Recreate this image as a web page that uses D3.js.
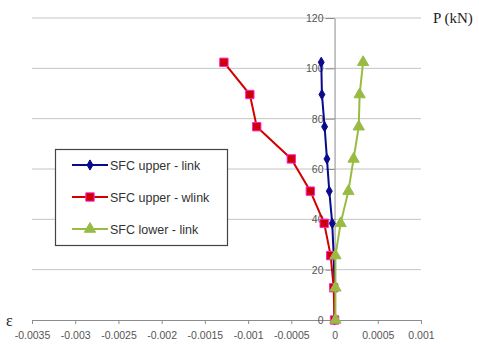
<!DOCTYPE html>
<html>
<head>
<meta charset="utf-8">
<script src="https://cdn.jsdelivr.net/npm/d3@7"></script>
<style>
  body { margin: 0; background: #fff; }
  svg { display: block; }
</style>
</head>
<body>
<div id="chart"></div>
<script>
const loads = [0, 12.8, 25.6, 38.4, 51.2, 64, 76.8, 89.6, 102.4];
const upperLink = [0, 0, -0.00001, -0.000027, -0.000061, -0.000088, -0.000115, -0.000146, -0.000154];
const upperWlink = [0, -0.00001, -0.000045, -0.00012, -0.00028, -0.0005, -0.0009, -0.00098, -0.00128];
const lowerLink = [0.00001, 0.00001, 0.00001, 0.00007, 0.00016, 0.00022, 0.00028, 0.00029, 0.00033];
const xTicks = [-0.0035, -0.003, -0.0025, -0.002, -0.0015, -0.001, -0.0005, 0, 0.0005, 0.001];
const yTicks = [0, 20, 40, 60, 80, 100, 120];
const seriesNames = ["SFC upper - link", "SFC upper - wlink", "SFC lower - link"];

const W = 479, H = 345;
const svg = d3.select("#chart").append("svg").attr("width", W).attr("height", H);

const x = d3.scaleLinear().domain([-0.0035, 0.001]).range([32, 421]);
const y = d3.scaleLinear().domain([0, 120]).range([320, 18]);

// Gridlines
yTicks.filter(v => v > 0).forEach(v => {
  svg.append("line")
    .attr("x1", x(-0.0035)).attr("x2", x(0.001))
    .attr("y1", y(v)).attr("y2", y(v))
    .attr("stroke", "#c4c4c4").attr("stroke-width", 1);
});

// X axis
const xAxis = svg.append("g")
  .attr("transform", `translate(0,${y(0)})`)
  .call(d3.axisBottom(x).tickValues(xTicks).tickSize(4).tickPadding(8)
    .tickFormat(d => d === 0 ? "0" : String(+d.toFixed(4))));
xAxis.select(".domain").attr("stroke", "#8c8c8c");
xAxis.selectAll(".tick line").attr("stroke", "#8c8c8c");
xAxis.selectAll("text").attr("fill", "#555").attr("font-family", "Arial, 'Liberation Sans', sans-serif").attr("font-size", 10.5);

// Y axis at x=0
const yAxis = svg.append("g")
  .attr("transform", `translate(${x(0)},0)`)
  .call(d3.axisLeft(y).tickValues(yTicks).tickSize(9).tickSizeOuter(0).tickPadding(2));
yAxis.select(".domain").attr("stroke", "#8c8c8c");
yAxis.selectAll(".tick line").attr("stroke", "#8c8c8c");
yAxis.selectAll("text").attr("fill", "#555").attr("font-family", "Arial, 'Liberation Sans', sans-serif").attr("font-size", 10.5);

// Axis titles
svg.append("text").attr("x", 433).attr("y", 23)
  .attr("font-family", "'Liberation Serif', 'Times New Roman', serif").attr("font-size", 15)
  .attr("fill", "#222").text("P (kN)");
svg.append("text").attr("x", 6).attr("y", 326)
  .attr("font-family", "'Liberation Serif', 'Times New Roman', serif").attr("font-size", 16)
  .attr("fill", "#222").text("ε");

// Series
const series = [
  { name: seriesNames[0], vals: upperLink, color: "#0a0a8c", fill: "#0a0a8c", stroke: "#0a0a8c", sym: d3.symbolDiamond, size: 30 },
  { name: seriesNames[1], vals: upperWlink, color: "#d40000", fill: "#cc0000", stroke: "#ff22dd", sym: d3.symbolSquare, size: 70 },
  { name: seriesNames[2], vals: lowerLink, color: "#99bb44", fill: "#99bb44", stroke: "#99bb44", sym: d3.symbolTriangle, size: 55 }
];

const line = d3.line().x(d => x(d[0])).y(d => y(d[1]));

series.forEach(s => {
  const pts = s.vals.map((v, i) => [v, loads[i]]);
  svg.append("path").datum(pts)
    .attr("d", line).attr("fill", "none")
    .attr("stroke", s.color).attr("stroke-width", 2);
  svg.selectAll(null).data(pts).enter().append("path")
    .attr("transform", d => `translate(${x(d[0])},${y(d[1])})`)
    .attr("d", d3.symbol().type(s.sym).size(s.size))
    .attr("fill", s.fill).attr("stroke", s.stroke).attr("stroke-width", 1);
});

// Legend
const lg = svg.append("g");
lg.append("rect").attr("x", 55.5).attr("y", 149.5).attr("width", 172).attr("height", 96)
  .attr("fill", "#fff").attr("stroke", "#444").attr("stroke-width", 1.2);
series.forEach((s, i) => {
  const ly = 165 + i * 32;
  lg.append("line").attr("x1", 72).attr("x2", 108).attr("y1", ly).attr("y2", ly)
    .attr("stroke", s.color).attr("stroke-width", 2);
  lg.append("path").attr("transform", `translate(90,${ly})`)
    .attr("d", d3.symbol().type(s.sym).size(s.size))
    .attr("fill", s.fill).attr("stroke", s.stroke).attr("stroke-width", 1);
  lg.append("text").attr("x", 110).attr("y", ly + 4.5)
    .attr("font-family", "Arial, 'Liberation Sans', sans-serif").attr("font-size", 12.5)
    .attr("fill", "#333").text(s.name);
});
</script>
</body>
</html>
